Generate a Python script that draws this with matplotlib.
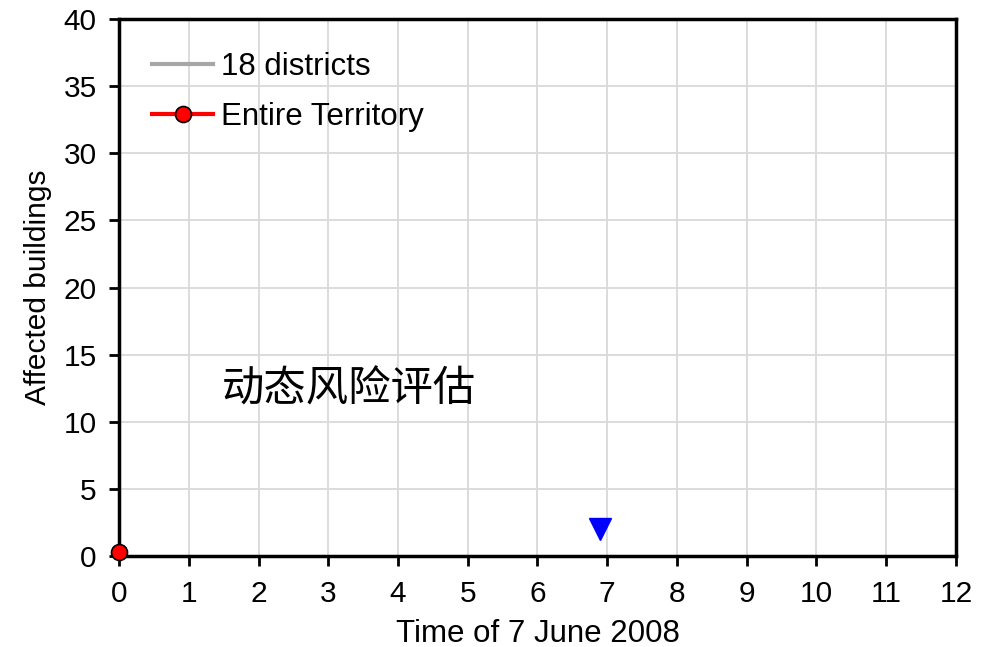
import matplotlib
matplotlib.use("Agg")
import matplotlib.pyplot as plt

# Hourly counts of affected buildings on 7 June 2008
district_hours = []
district_counts = []
territory_hours = [0]
territory_counts = [0.3]

# Time marker
marker_hour = [6.9]
marker_level = [2.0]

x_ticks = list(range(0, 13))
y_ticks = list(range(0, 41, 5))

plt.rcParams['font.family'] = ['Liberation Sans', 'DejaVu Sans']

FS = 21.5
LFS = 22.5

fig = plt.figure(figsize=(9.82, 6.47), dpi=100)
ax = fig.add_axes([0.1212, 0.1406, 0.8523, 0.8300])

ax.plot(district_hours, district_counts, color='#a6a6a6', lw=3, label='18 districts')
ax.plot(territory_hours, territory_counts, color='red', lw=3, marker='o',
        markersize=11.5, markerfacecolor='red', markeredgecolor='black',
        markeredgewidth=1.2, label='Entire Territory', clip_on=False, zorder=5)
ax.plot(marker_hour, marker_level, linestyle='none', marker='v', color='blue',
        markersize=16, zorder=4)

ax.set_xlim(0, 12)
ax.set_ylim(0, 40)
ax.set_xticks(x_ticks)
ax.set_yticks(y_ticks)
ax.grid(True, color='#d9d9d9', lw=1.3)
ax.set_axisbelow(True)
for s in ax.spines.values():
    s.set_linewidth(2.5)
    s.set_color('black')
ax.tick_params(direction='out', length=7, width=2, labelsize=FS)
ax.tick_params(axis='x', pad=10)
ax.tick_params(axis='y', pad=9)

ax.set_xlabel('Time of 7 June 2008', fontsize=LFS, labelpad=8)
ax.set_ylabel('Affected buildings', fontsize=FS, labelpad=8)

ax.text(1.48, 12.4, '动态风险评估', fontsize=30.5, va='center', ha='left',
        family=['Noto Sans CJK SC', 'DejaVu Sans'], fontweight='light')

leg = ax.legend(loc='upper left', frameon=False, fontsize=LFS, handlelength=1.95,
                handletextpad=0.25, labelspacing=0.64, borderaxespad=0.0,
                borderpad=0.4, bbox_to_anchor=(0.025, 0.962))

fig.savefig('out.png', dpi=100)
